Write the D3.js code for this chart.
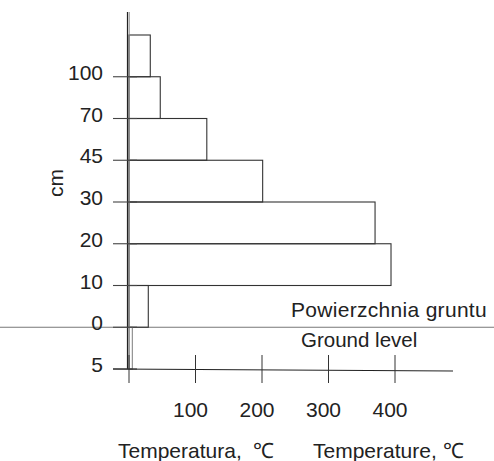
<!DOCTYPE html>
<html>
<head>
<meta charset="utf-8">
<script src="https://cdn.jsdelivr.net/npm/d3@7"></script>
<style>
  body { margin: 0; background: #fff; }
  svg text { font-family: "Liberation Sans", Arial, sans-serif; fill: #222; }
</style>
</head>
<body>
<div id="chart"></div>
<script>
// depth marks (cm), top to bottom; each bar ends at its label
const depthLabels = ["100", "70", "45", "30", "20", "10", "0", "5"];
// temperature reached in each layer, deg C
const temps = [32, 47, 117, 201, 370, 394, 29, 5];
const tempTicks = [0, 100, 200, 300, 400];

const width = 494, height = 461;

const svg = d3.select('#chart').append('svg')
    .attr('width', width)
    .attr('height', height);

const y = d3.scaleBand()
    .domain(depthLabels)
    .range([35, 369])
    .paddingInner(0)
    .paddingOuter(0);

const x = d3.scaleLinear()
    .domain([0, 400])
    .range([129, 395]);

const bw = y.bandwidth();

// ground level line
const groundY = y('0') + bw;
svg.append('line')
    .attr('x1', 0).attr('x2', width)
    .attr('y1', groundY).attr('y2', groundY)
    .attr('stroke', '#777')
    .attr('stroke-width', 1.2);

// bars
svg.append('g')
    .selectAll('rect')
    .data(depthLabels)
    .join('rect')
    .attr('x', x(0))
    .attr('y', d => y(d))
    .attr('width', (d, i) => x(temps[i]) - x(0))
    .attr('height', bw)
    .attr('fill', 'none')
    .attr('stroke', (d, i) => i == depthLabels.length - 1 ? '#888' : '#333')
    .attr('stroke-width', 1.1);

// vertical axis (double line look)
svg.append('line')
    .attr('x1', 127.5).attr('x2', 127.5)
    .attr('y1', 12).attr('y2', y.range()[1])
    .attr('stroke', '#222').attr('stroke-width', 1.2);
svg.append('line')
    .attr('x1', 129.2).attr('x2', 129.2)
    .attr('y1', 12).attr('y2', y.range()[1])
    .attr('stroke', '#888').attr('stroke-width', 1);

// depth ticks + labels
const yTicks = svg.append('g')
    .selectAll('g')
    .data(depthLabels)
    .join('g')
    .attr('transform', d => `translate(0,${y(d) + bw})`);

yTicks.append('line')
    .attr('x1', 113).attr('x2', 137)
    .attr('stroke', '#444').attr('stroke-width', 1.1);

yTicks.append('text')
    .attr('x', 103)
    .attr('y', 3)
    .attr('text-anchor', 'end')
    .attr('font-size', 21)
    .text(d => d);

// temperature axis, slightly sloped like the original
svg.append('line')
    .attr('x1', 113).attr('x2', 453)
    .attr('y1', y.range()[1]).attr('y2', y.range()[1] + 2)
    .attr('stroke', '#222').attr('stroke-width', 1.2);

const xTicks = svg.append('g')
    .selectAll('g')
    .data(tempTicks)
    .join('g')
    .attr('transform', d => `translate(${x(d)},0)`);

xTicks.append('line')
    .attr('y1', 355).attr('y2', 383)
    .attr('stroke', '#333').attr('stroke-width', 1);

xTicks.filter(d => d > 0).append('text')
    .attr('x', -5)
    .attr('y', 417)
    .attr('text-anchor', 'middle')
    .attr('font-size', 21)
    .text(d => d);

// annotations
svg.append('text')
    .attr('x', 487).attr('y', groundY - 10)
    .attr('text-anchor', 'end')
    .attr('font-size', 21)
    .attr('letter-spacing', 0.3)
    .text('Powierzchnia gruntu');

svg.append('text')
    .attr('x', 301).attr('y', groundY + 20)
    .attr('font-size', 20.5)
    .text('Ground level');

svg.append('text')
    .attr('transform', `translate(63,183) rotate(-90)`)
    .attr('text-anchor', 'middle')
    .attr('font-size', 21)
    .text('cm');

svg.append('text')
    .attr('x', 118).attr('y', 458)
    .attr('font-size', 21)
    .style('white-space', 'pre')
    .text('Temperatura,  \u2103');

svg.append('text')
    .attr('x', 313).attr('y', 458)
    .attr('font-size', 21)
    .text('Temperature, \u2103');
</script>
</body>
</html>
